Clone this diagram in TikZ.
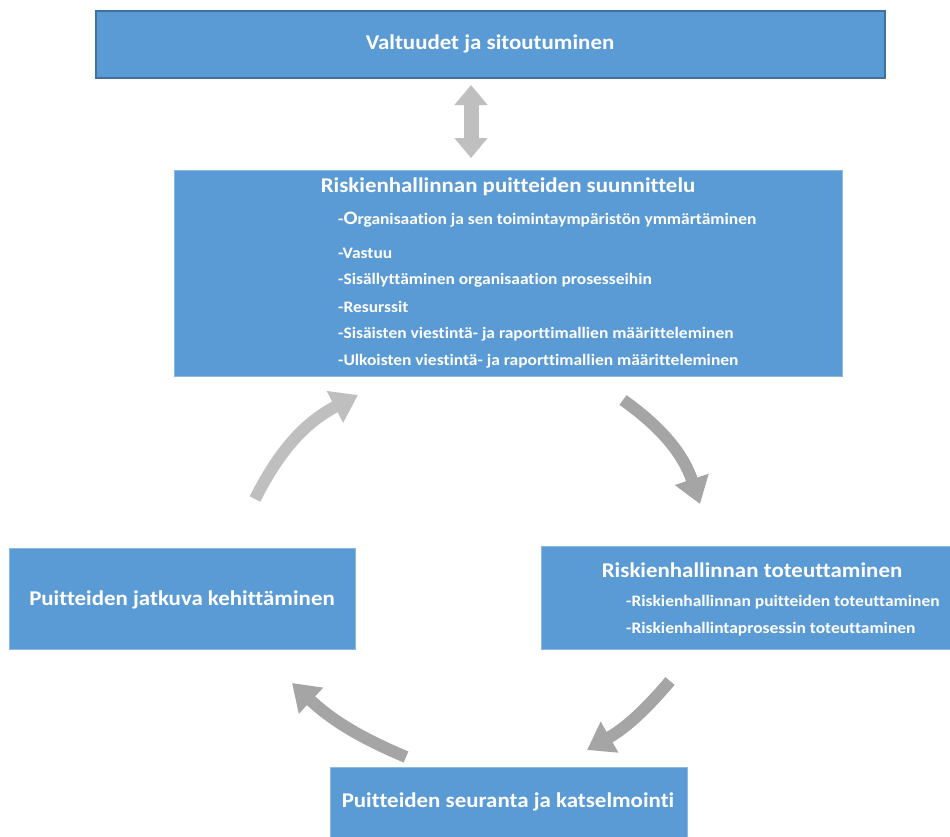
\documentclass[tikz,border=0pt]{standalone}
\usepackage{fontspec}
\setmainfont{Carlito}[FakeStretch=1.09,Ligatures=NoCommon]
\usetikzlibrary{arrows.meta}
\definecolor{boxblue}{HTML}{5B9BD5}
\definecolor{boxedge}{HTML}{41719C}
\definecolor{lightarrow}{HTML}{BFBFBF}
\definecolor{darkarrow}{HTML}{A5A5A5}
\begin{document}
\begin{tikzpicture}[x=1pt,y=-1pt,
  blockbox/.style={fill=boxblue,draw=boxblue!70!white,line width=0.6pt,inner sep=0pt},
  headtext/.style={text=white,font=\bfseries\fontsize{21}{24}\selectfont,inner sep=0pt},
  itemtext/.style={text=white,font=\bfseries\fontsize{16}{19}\selectfont,inner sep=0pt,anchor=west},
  flowarrow/.style={line width=12pt,-{Triangle[width=34pt,length=26pt]}},
  linkarrow/.style={line width=15pt,{Triangle[width=32pt,length=20pt]}-{Triangle[width=32pt,length=20pt]},draw=lightarrow}
]
\useasboundingbox (0,0) rectangle (950,836);
\fill[white] (0,0) rectangle (950,836);

% top box
\node[blockbox,draw=boxedge,line width=1.2pt,minimum width=789pt,minimum height=67pt] (top) at (490.5,44.5) {};
\node[headtext] (toptext) at (490,44) {Valtuudet ja sitoutuminen};

% planning box
\node[blockbox,minimum width=668pt,minimum height=206pt] (plan) at (508,273) {};
\node[headtext] (plantitle) at (508,187) {Riskienhallinnan puitteiden suunnittelu};
\node[itemtext] (p1) at (338,220) {-{\fontsize{19}{21}\selectfont O}rganisaation ja sen toimintaympäristön ymmärtäminen};
\node[itemtext] (p2) at (338,253) {-Vastuu};
\node[itemtext] (p3) at (338,280) {-Sisällyttäminen organisaation prosesseihin};
\node[itemtext] (p4) at (338,307) {-Resurssit};
\node[itemtext] (p5) at (338,334) {-Sisäisten viestintä- ja raporttimallien määritteleminen};
\node[itemtext] (p6) at (338,361) {-Ulkoisten viestintä- ja raporttimallien määritteleminen};

% improvement box
\node[blockbox,minimum width=346pt,minimum height=101pt] (improve) at (182,598.5) {};
\node[headtext] (improvetext) at (182,600) {Puitteiden jatkuva kehittäminen};

% implementation box
\node[blockbox,minimum width=409pt,minimum height=103pt] (impl) at (745.5,597.5) {};
\node[headtext] (impltitle) at (752,570) {Riskienhallinnan toteuttaminen};
\node[itemtext] (i1) at (626,602) {-Riskienhallinnan puitteiden toteuttaminen};
\node[itemtext] (i2) at (626,629) {-Riskienhallintaprosessin toteuttaminen};

% monitoring box
\node[blockbox,minimum width=357pt,minimum height=70pt] (monitor) at (508.5,802) {};
\node[headtext] (monitortext) at (508,802) {Puitteiden seuranta ja katselmointi};

% arrow end points
\coordinate (da1) at (471,85);
\coordinate (da2) at (471,158);
\coordinate (ul1) at (255,499);
\coordinate (ul2) at (358,395);
\coordinate (ur1) at (623,400);
\coordinate (ur2) at (700,504);
\coordinate (lr1) at (670,681);
\coordinate (lr2) at (587,750);
\coordinate (ll1) at (406,757);
\coordinate (ll2) at (292,683);

% connectors
\draw[linkarrow] (da1) -- (da2);
\draw[flowarrow,draw=lightarrow] (ul1) to[bend left=18] (ul2);
\draw[flowarrow,draw=darkarrow] (ur1) to[bend left=18] (ur2);
\draw[flowarrow,draw=darkarrow] (lr1) to[bend left=10] (lr2);
\draw[flowarrow,draw=darkarrow] (ll1) to[bend left=10] (ll2);
\end{tikzpicture}
\end{document}
